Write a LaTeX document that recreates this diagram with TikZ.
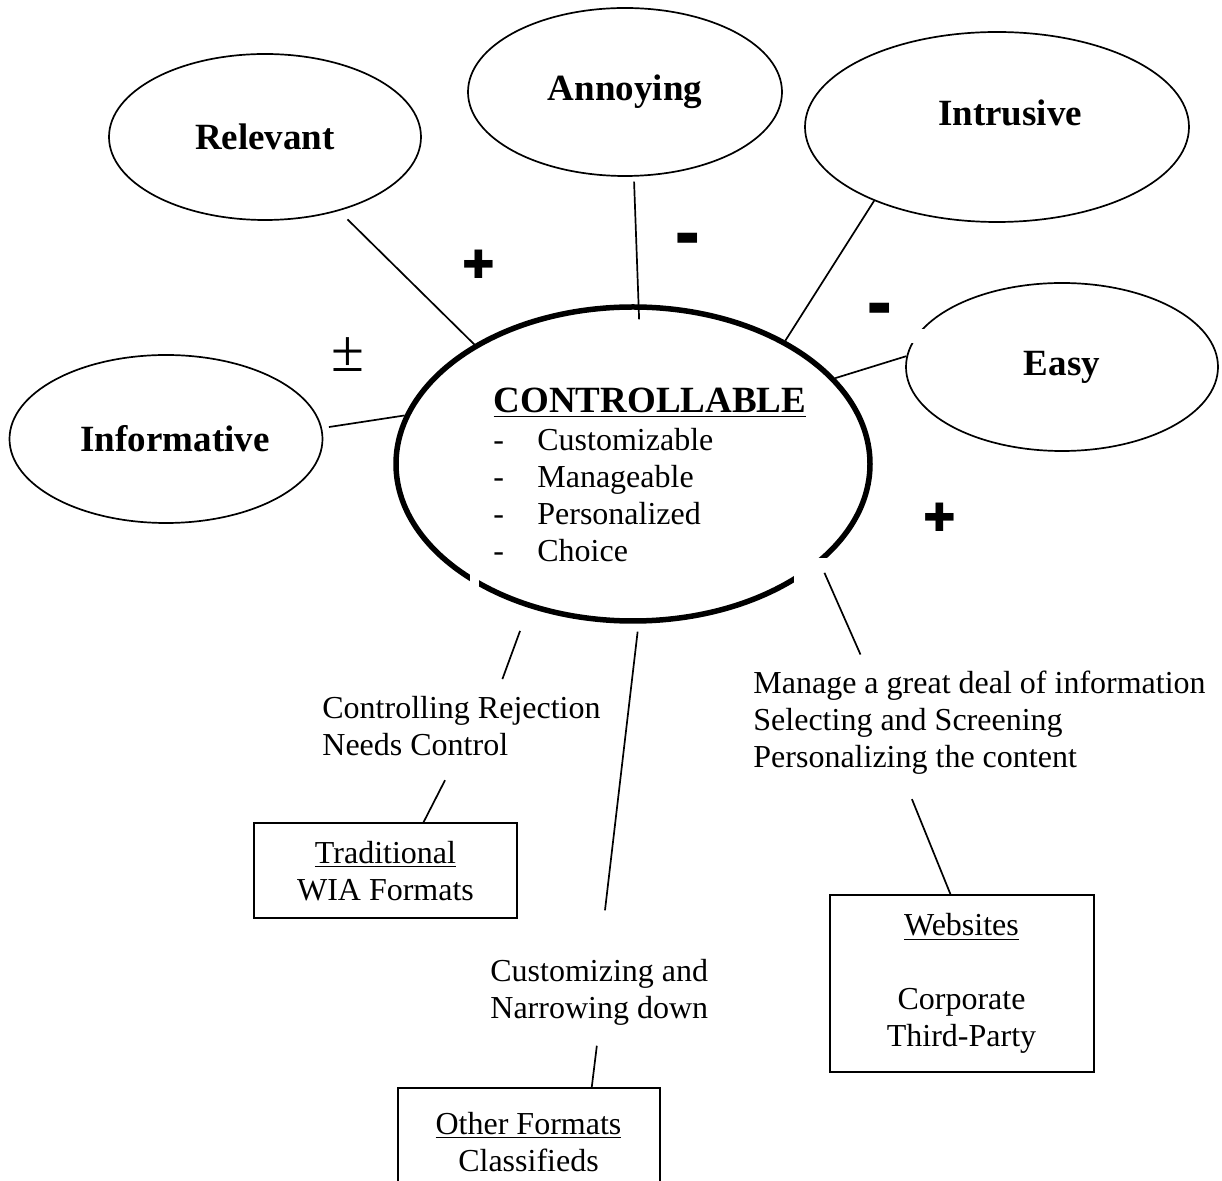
\documentclass[tikz,border=0pt]{standalone}
\usepackage{fontspec}
\setmainfont{Liberation Serif}
\newfontfamily\signfont{DejaVu Sans}
\usepackage{graphicx}
\usepackage{tikz}
\usetikzlibrary{shapes.geometric}

\begin{document}
\begin{tikzpicture}[x=0.5pt,y=-0.5pt,
  bubble/.style={draw,ellipse,line width=0.85pt,inner sep=0pt,font=\bfseries\fontsize{18.5}{22}\selectfont},
  mainbubble/.style={draw,ellipse,line width=2.75pt,inner sep=0pt,minimum width=237pt,minimum height=157pt},
  fmtbox/.style={draw,line width=1pt,align=center,inner sep=0pt,font=\fontsize{16}{18.5}\selectfont},
  note/.style={align=left,inner sep=0pt,anchor=north west,font=\fontsize{16}{18.5}\selectfont},
  link/.style={line width=0.85pt},
  sign/.style={inner sep=0pt}]
  \useasboundingbox (0,0) rectangle (1222,1181);
  \clip (0,0) rectangle (1222,1181);

  % attribute bubbles
  \node[bubble,minimum width=156pt,minimum height=83pt] (relevant) at (265,137) {Relevant};
  \node[bubble,minimum width=157pt,minimum height=84pt] (annoying) at (625,92) {Annoying};
  \node[bubble,minimum width=192pt,minimum height=95pt,text depth=14pt] (intrusive) at (997,127) {\hspace{13pt}Intrusive};
  \node[bubble,minimum width=156pt,minimum height=84pt] (easy) at (1062,367) {Easy\hspace{8pt}};
  \node[bubble,minimum width=156.5pt,minimum height=84pt] (informative) at (166,439) {\hspace{9pt}Informative};

  % central bubble
  \node[mainbubble] (ctrl) at (633,464) {};
  \fill[white] (470,568) rectangle (479,596);
  \fill[white] (794,558) rectangle (845,605);
  \fill[white] (909,329) rectangle (927,343);
  \node[anchor=base,inner sep=0pt,font=\bfseries\fontsize{18.5}{22}\selectfont] (ctrlhead) at (650,413) {\underline{CONTROLLABLE}};
  \foreach \txt [count=\i] in {Customizable,Manageable,Personalized,Choice}
    \node[anchor=base west,inner sep=0pt,font=\fontsize{16}{18.5}\selectfont] (item\i) at (493,{451+36.7*(\i-1)}) {\makebox[22pt][l]{-}\txt};

  % signs
  \node[sign] (plusa) at (479,264) {\signfont\fontsize{19.5}{19.5}\selectfont ✚};
  \node[sign] (plusb) at (940,517) {\signfont\fontsize{19.5}{19.5}\selectfont ✚};
  \node[sign] (minusa) at (688,246) {\signfont\bfseries\fontsize{22}{22}\selectfont\scalebox{1.45}[1.6]{-}};
  \node[sign] (minusb) at (880,316) {\signfont\bfseries\fontsize{22}{22}\selectfont\scalebox{1.45}[1.6]{-}};
  \node[sign] (plusminus) at (348,355) {\fontsize{30}{30}\selectfont ±};

  % notes and formats
  \node[note] (ctrlrej) at (322,696) {Controlling Rejection\\Needs Control};
  \node[note] (custnar) at (490,959) {Customizing and\\Narrowing down};
  \node[note] (manage) at (753,671) {Manage a great deal of information\\Selecting and Screening\\Personalizing the content};
  \node[fmtbox,minimum width=131.5pt,minimum height=47.5pt] (trad) at (385.5,871) {\underline{Traditional}\\WIA Formats};
  \node[fmtbox,minimum width=131pt,minimum height=54pt] (other) at (528.5,1142) {\underline{Other Formats}\\Classifieds};
  \node[fmtbox,minimum width=132pt,minimum height=88pt] (web) at (961.5,983.5) {\underline{Websites}\\[18.5pt]Corporate\\Third-Party};

  % connectors
  \draw[link,shorten <=6pt] (relevant.-45) -- (ctrl.143);
  \draw[link,shorten <=2.5pt,shorten >=-7.5pt] (annoying.-84) -- (ctrl.88.5);
  \draw[link] (intrusive.211) -- (ctrl.39.7);
  \draw[link] (easy.176) -- (ctrl.23.7);
  \draw[link,shorten <=3.5pt] (informative.4) -- (ctrl.168.2);
  \draw[link,shorten <=12.3pt,shorten >=9pt] (ctrl.234.4) -- (ctrlrej.41);
  \draw[link,shorten <=13.4pt] (ctrlrej.262.3) -- (trad.52.7);
  \draw[link,shorten <=4pt,shorten >=24.5pt] (ctrl.272.5) -- (custnar.north);
  \draw[link,shorten <=10pt] (custnar.south) -- (other.41.3);
  \draw[link,shorten <=5pt,shorten >=9pt] (ctrl.332.7) -- (manage.155.6);
  \draw[link,shorten <=12.9pt] (manage.214.7) -- (web.97.4);
\end{tikzpicture}
\end{document}
